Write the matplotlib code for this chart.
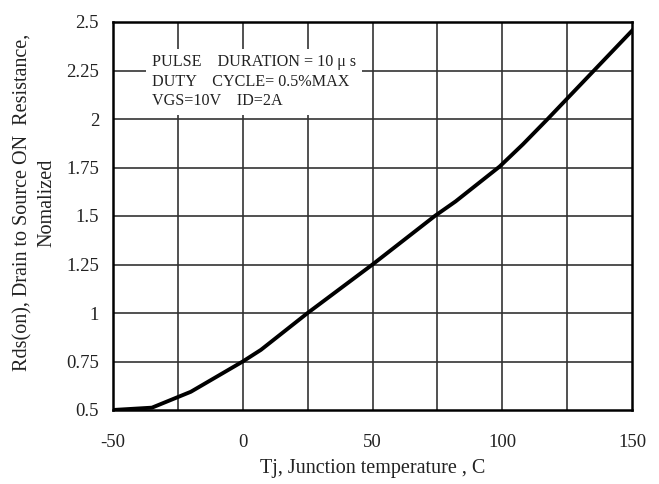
import numpy as np
import matplotlib.pyplot as plt

plt.rcParams['font.family'] = ['Liberation Serif', 'DejaVu Serif']
plt.rcParams['axes.unicode_minus'] = False

# curve
tj = [-50, -35, -20, 0, 7, 25, 50, 74, 82, 99, 108, 117.5, 125, 150]
rds = [0.5, 0.512, 0.594, 0.75, 0.81, 1.0, 1.25, 1.5, 1.575, 1.755, 1.87, 2.0, 2.105, 2.455]

xticks = [-50, 0, 50, 100, 150]
yticks = [0.5, 0.75, 1, 1.25, 1.5, 1.75, 2, 2.25, 2.5]
ytick_labels = ['0.5', '0.75', '1', '1.25', '1.5', '1.75', '2', '2.25', '2.5']

fig = plt.figure(figsize=(6.59, 4.84), dpi=100)
ax = fig.add_axes([113/659, 1 - 410/484, 519/659, 388/484])

# grid every 25 C and 0.25
for gx in np.arange(-25, 150, 25):
    ax.axvline(gx, color='#333333', lw=1.2, zorder=1)
for gy in np.arange(0.75, 2.5, 0.25):
    ax.axhline(gy, color='#333333', lw=1.2, zorder=1)

ax.plot(tj, rds, color='black', lw=2.8, zorder=3)

ax.set_xlim(-50, 150)
ax.set_ylim(0.5, 2.5)
ax.set_xticks(xticks)
ax.set_yticks(yticks)
ax.set_yticklabels(ytick_labels)
ax.tick_params(length=0, labelsize=13.5, colors='#222222')
ax.tick_params(axis='y', pad=10)
ax.tick_params(axis='x', pad=17)
for s in ax.spines.values():
    s.set_linewidth(1.8)

ax.set_xlabel('Tj, Junction temperature , C', fontsize=14.5, color='#222222', labelpad=6)
ax.set_ylabel('Rds(on), Drain to Source ON  Resistance,\nNomalized', fontsize=14.5,
              color='#222222', labelpad=7, linespacing=1.35)
ax.yaxis.label.set_y(0.535)

ax.text(-35, 2.335, 'PULSE    DURATION = 10 \u03bc s\nDUTY    CYCLE= 0.5%MAX\nVGS=10V    ID=2A',
        fontsize=11.6, va='top', ha='left', color='#222222', linespacing=1.3, zorder=4,
        bbox=dict(facecolor='white', edgecolor='none', pad=4))

fig.savefig('out.png', dpi=100)
